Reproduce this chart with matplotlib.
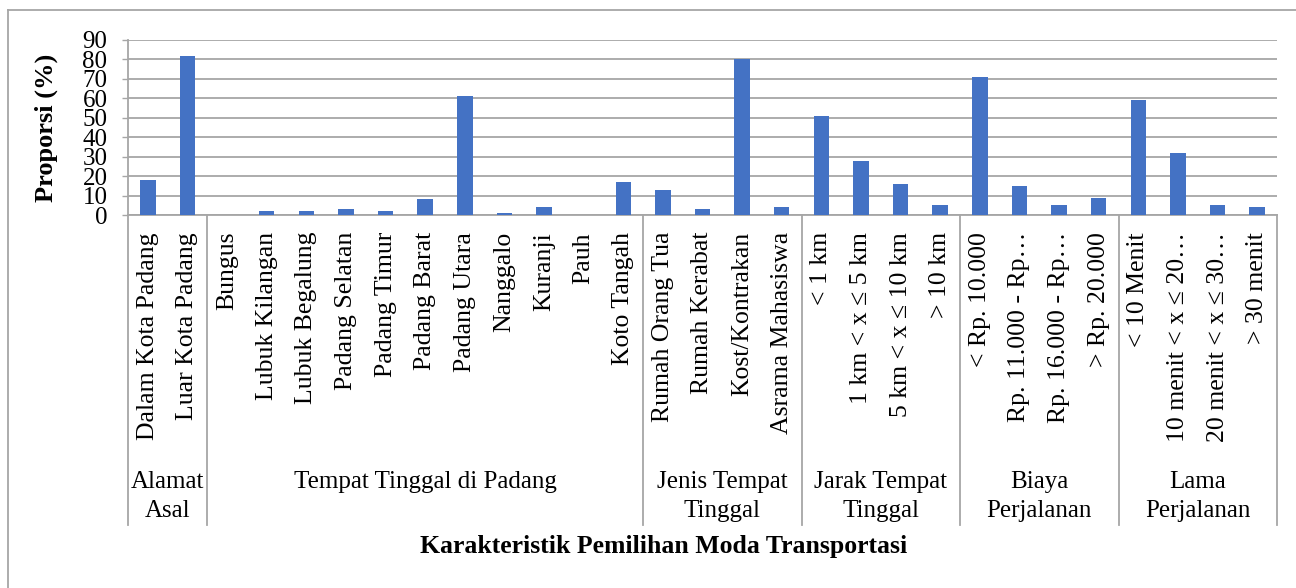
import matplotlib.pyplot as plt
from matplotlib.lines import Line2D
from matplotlib.transforms import blended_transform_factory

plt.rcParams['font.family'] = ['Liberation Serif', 'DejaVu Serif']

# data
categories = [
    "Dalam Kota Padang", "Luar Kota Padang",
    "Bungus", "Lubuk Kilangan", "Lubuk Begalung", "Padang Selatan",
    "Padang Timur", "Padang Barat", "Padang Utara", "Nanggalo", "Kuranji",
    "Pauh", "Koto Tangah",
    "Rumah Orang Tua", "Rumah Kerabat", "Kost/Kontrakan", "Asrama Mahasiswa",
    "< 1 km", "1 km < x ≤ 5 km", "5 km < x ≤ 10 km", "> 10 km",
    "< Rp. 10.000", "Rp. 11.000 - Rp…", "Rp. 16.000 - Rp…", "> Rp. 20.000",
    "< 10 Menit", "10 menit < x ≤ 20…", "20 menit < x ≤ 30…", "> 30 menit",
]
values = [18, 82,
          0, 2, 2, 3, 2, 8, 61, 1, 4, 0, 17,
          13, 3, 80, 4,
          51, 28, 16, 5,
          71, 15, 5, 9,
          59, 32, 5, 4]
groups = ["Alamat\nAsal", "Tempat Tinggal di Padang", "Jenis Tempat\nTinggal",
          "Jarak Tempat\nTinggal", "Biaya\nPerjalanan", "Lama\nPerjalanan"]
group_sizes = [2, 11, 4, 4, 4, 4]

W, H = 1296, 588
fig = plt.figure(figsize=(W / 100, H / 100), dpi=100)
ax = fig.add_axes([128 / W, 1 - 215 / H, (1277 - 128) / W, (215 - 40) / H])

x = list(range(len(categories)))
ax.bar(x, values, width=0.39, color="#4472C4", zorder=3)

grid_c = "#A6A6A6"
ax.set_xlim(-0.5, len(categories) - 0.5)
ax.set_ylim(0, 90)
ax.set_yticks(range(0, 91, 10))
ax.yaxis.grid(True, color=grid_c, linewidth=1.3, zorder=0)
ax.tick_params(axis="y", labelsize=18, length=4.3, width=1.0, color=grid_c, pad=10.5)
ax.set_xticks([])
for s in ["top", "right"]:
    ax.spines[s].set_visible(False)
for s in ["left", "bottom"]:
    ax.spines[s].set_color(grid_c)
    ax.spines[s].set_linewidth(1.3)

ax.set_ylabel("Proporsi (%)", fontsize=19, fontweight="bold")
ax.yaxis.set_label_coords((58 - 128) / 1149, 0.5)

tr = blended_transform_factory(ax.transData, fig.transFigure)

# category labels
for xi, lab in zip(x, categories):
    ax.text(xi, 1 - 232 / H, lab, transform=tr, rotation=90, ha="center",
            va="top", fontsize=18.5, rotation_mode="default")

# group separators and group labels
start = 0
bounds = [-0.5]
for g, n in zip(groups, group_sizes):
    center = start + (n - 1) / 2
    lines = g.split("\n")
    for i, ln in enumerate(lines):
        ax.text(center, 1 - (488 + 29 * i) / H, ln, transform=tr, ha="center",
                va="baseline", fontsize=18)
    start += n
    bounds.append(start - 0.5)

for b in bounds:
    fig.add_artist(Line2D([b, b], [1 - 215 / H, 1 - 525 / H], transform=tr,
                          color=grid_c, linewidth=1.3))

fig.text(664 / W, 1 - 547 / H, "Karakteristik Pemilihan Moda Transportasi",
         ha="center", va="center", fontsize=18.5, fontweight="bold")

# outer chart border (top and left visible)
fig.add_artist(Line2D([8 / W, 1.0], [1 - 10 / H, 1 - 10 / H], color=grid_c, linewidth=1.3))
fig.add_artist(Line2D([8 / W, 8 / W], [1 - 10 / H, 0.0], color=grid_c, linewidth=1.3))

fig.savefig("out.png", dpi=100)
